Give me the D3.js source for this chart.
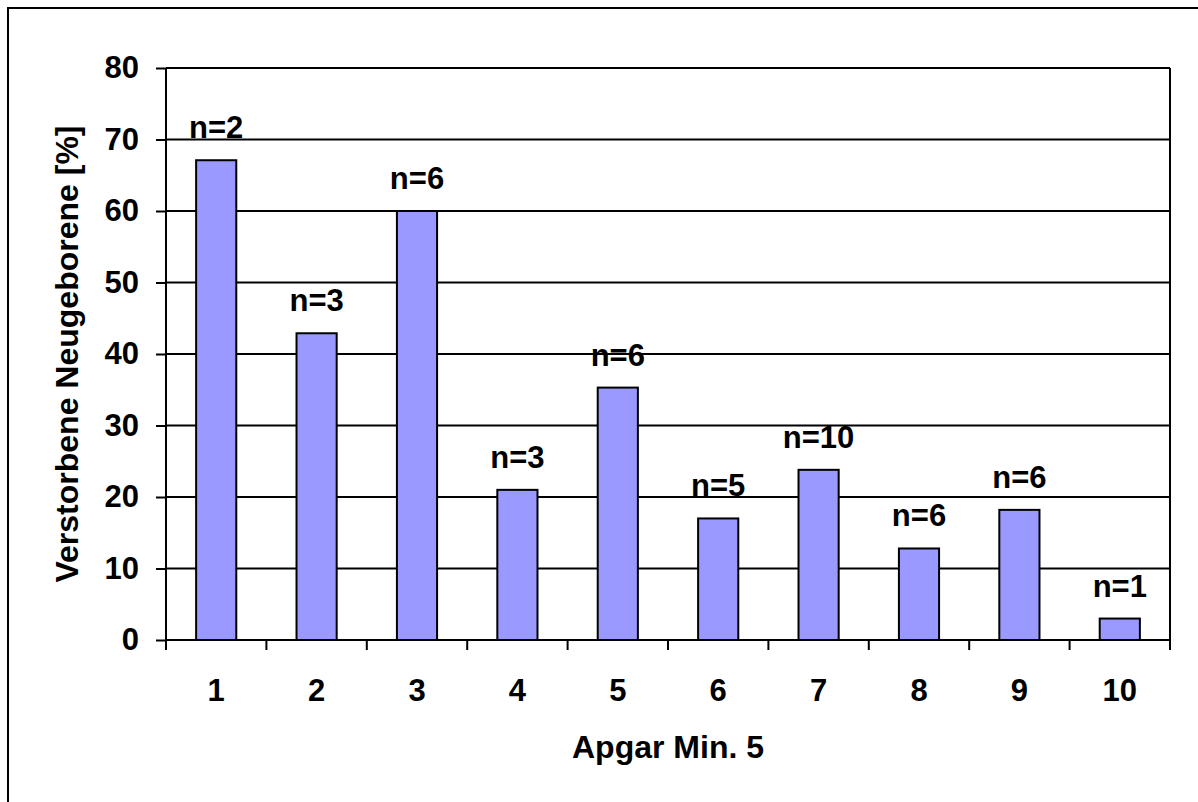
<!DOCTYPE html>
<html>
<head>
<meta charset="utf-8">
<script src="https://cdn.jsdelivr.net/npm/d3@7"></script>
<style>
  body { margin: 0; background: #fff; }
  text { font-family: Arial, "Liberation Sans", sans-serif; font-weight: bold; fill: #000; }
</style>
</head>
<body>
<div id="chart"></div>
<script>
const categories = ["1", "2", "3", "4", "5", "6", "7", "8", "9", "10"];
const percent = [67.1, 42.9, 60, 21.0, 35.3, 17.0, 23.8, 12.8, 18.2, 3.0];
const nLabels = ["n=2", "n=3", "n=6", "n=3", "n=6", "n=5", "n=10", "n=6", "n=6", "n=1"];
const yTicks = [0, 10, 20, 30, 40, 50, 60, 70, 80];

const margin = {top: 68, right: 28, bottom: 162, left: 166},
    width = 1198 - margin.left - margin.right,
    height = 802 - margin.top - margin.bottom;

const svgRoot = d3.select("#chart")
    .append("svg")
    .attr("width", 1198)
    .attr("height", 802);

// outer chart border
svgRoot.append("rect")
    .attr("x", 8).attr("y", 8)
    .attr("width", 1200).attr("height", 800)
    .attr("fill", "none")
    .attr("stroke", "#000")
    .attr("stroke-width", 2);

const svg = svgRoot.append("g")
    .attr("transform", `translate(${margin.left},${margin.top})`);

const x = d3.scaleBand()
    .domain(categories)
    .range([0, width])
    .paddingInner(0.6)
    .paddingOuter(0.3);

const xEdges = d3.scaleLinear()
    .domain([0, categories.length])
    .range([0, width]);

const y = d3.scaleLinear()
    .domain([0, 80])
    .range([height, 0]);

// gridlines + y axis
const yAxis = svg.append("g")
    .call(d3.axisLeft(y).tickValues(yTicks).tickSize(10).tickPadding(17).tickSizeOuter(0));
yAxis.select(".domain").remove();
yAxis.selectAll("line").attr("stroke", "#000").attr("stroke-width", 2);
yAxis.selectAll("text").style("font-size", "31px");

svg.append("g")
    .selectAll("line")
    .data(yTicks.filter(d => d > 0))
    .join("line")
    .attr("x1", 0).attr("x2", width)
    .attr("y1", d => y(d)).attr("y2", d => y(d))
    .attr("stroke", "#000")
    .attr("stroke-width", 2);

// bars
svg.append("g")
    .selectAll("rect")
    .data(percent)
    .join("rect")
    .attr("x", (d, i) => x(categories[i]))
    .attr("y", d => y(d))
    .attr("width", x.bandwidth())
    .attr("height", d => height - y(d))
    .attr("fill", "#9999ff")
    .attr("stroke", "#000")
    .attr("stroke-width", 2);

// n labels
svg.append("g")
    .selectAll("text")
    .data(nLabels)
    .join("text")
    .attr("x", (d, i) => x(categories[i]) + x.bandwidth() / 2)
    .attr("y", (d, i) => y(percent[i]) - 22)
    .attr("text-anchor", "middle")
    .style("font-size", "31px")
    .text(d => d);

// plot frame: left, right, bottom
svg.append("line").attr("x1", 0).attr("x2", 0).attr("y1", 0).attr("y2", height)
    .attr("stroke", "#000").attr("stroke-width", 2);
svg.append("line").attr("x1", width).attr("x2", width).attr("y1", 0).attr("y2", height + 10)
    .attr("stroke", "#000").attr("stroke-width", 2);
svg.append("line").attr("x1", 0).attr("x2", width).attr("y1", height).attr("y2", height)
    .attr("stroke", "#000").attr("stroke-width", 2);

// x ticks at category boundaries
svg.append("g")
    .selectAll("line")
    .data(d3.range(categories.length + 1))
    .join("line")
    .attr("x1", d => xEdges(d)).attr("x2", d => xEdges(d))
    .attr("y1", height).attr("y2", height + 10)
    .attr("stroke", "#000")
    .attr("stroke-width", 2);

// x labels
svg.append("g")
    .selectAll("text")
    .data(categories)
    .join("text")
    .attr("x", d => x(d) + x.bandwidth() / 2)
    .attr("y", height + 61)
    .attr("text-anchor", "middle")
    .style("font-size", "31px")
    .text(d => d);

// axis titles
svg.append("text")
    .attr("x", width / 2)
    .attr("y", height + 118)
    .attr("text-anchor", "middle")
    .style("font-size", "32px")
    .text("Apgar Min. 5");

svg.append("text")
    .attr("transform", `translate(${-88},${height / 2}) rotate(-90)`)
    .attr("text-anchor", "middle")
    .style("font-size", "32px")
    .text("Verstorbene Neugeborene [%]");
</script>
</body>
</html>
